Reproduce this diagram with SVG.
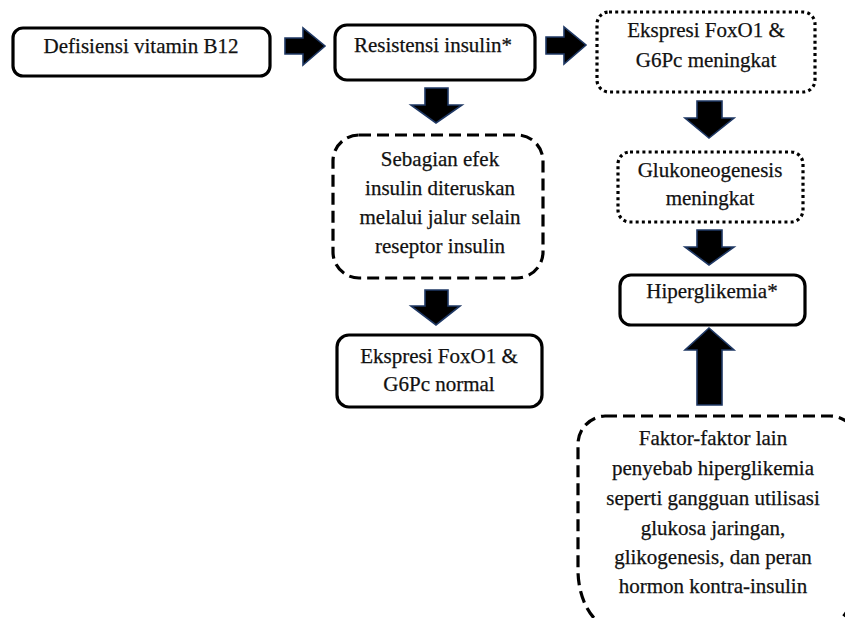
<svg xmlns="http://www.w3.org/2000/svg" width="845" height="618" viewBox="0 0 845 618">
<style>
.box{fill:#fff;stroke:#000;stroke-width:3.2}
.dot{stroke-dasharray:3 3.2}
.dash{stroke-dasharray:12 6}
.arr{fill:#000;stroke:#1F3864;stroke-width:1.6;stroke-linejoin:miter}
text{font-family:"Liberation Serif","Times New Roman",serif;font-size:21px;fill:#111;stroke:#111;stroke-width:0.25;text-anchor:middle}
</style>
<rect width="845" height="618" fill="#fff"/>
<g id="connectors">
<path class="arr" d="M285 38 H303 V28 L325 46 L303 65 V54 H285 Z"/>
<path class="arr" d="M546 37 H564 V27 L586 45 L564 64 V54 H546 Z"/>
<path class="arr" d="M425 88 H448 V105 H462 L436 123 L411 105 H425 Z"/>
<path class="arr" d="M425 290 H448 V306 H460 L436 325 L411 306 H425 Z"/>
<path class="arr" d="M697 101 H722 V118 H734 L709 138 L685 118 H697 Z"/>
<path class="arr" d="M697 230 H722 V247 H734 L709 265 L685 247 H697 Z"/>
<path class="arr" d="M697 405 V350 H685 L709 328 L734 350 H722 V405 Z"/>
</g>
<g id="n1">
<rect class="box" x="13" y="28" width="257" height="48" rx="10"/>
<text x="141" y="53">Defisiensi vitamin B12</text>
</g>
<g id="n2">
<rect class="box" x="335" y="25" width="200" height="55" rx="12"/>
<text x="433" y="52">Resistensi insulin*</text>
</g>
<g id="n3">
<rect class="box dot" x="597" y="12" width="218" height="80" rx="12"/>
<text x="706" y="37">Ekspresi FoxO1 &amp;</text>
<text x="706" y="67">G6Pc meningkat</text>
</g>
<g id="n4">
<rect class="box dash" x="333" y="135" width="210" height="143" rx="26"/>
<text x="440" y="166">Sebagian efek</text>
<text x="440" y="195">insulin diteruskan</text>
<text x="440" y="224">melalui jalur selain</text>
<text x="440" y="253">reseptor insulin</text>
</g>
<g id="n5">
<rect class="box" x="337" y="335" width="205" height="72" rx="12"/>
<text x="439" y="363">Ekspresi FoxO1 &amp;</text>
<text x="439" y="391">G6Pc normal</text>
</g>
<g id="n6">
<rect class="box dot" x="618" y="152" width="185" height="70" rx="12"/>
<text x="710" y="177">Glukoneogenesis</text>
<text x="710" y="205">meningkat</text>
</g>
<g id="n7">
<rect class="box" x="620" y="275" width="185" height="50" rx="11"/>
<text x="712" y="298">Hiperglikemia*</text>
</g>
<g id="n8">
<path class="box dash" d="M605 416 H830 A28 28 0 0 1 858 444 V570 A40 60 0 0 1 818 630 H617 A40 60 0 0 1 578 570 V444 A28 28 0 0 1 605 416 Z"/>
<text x="713" y="445">Faktor-faktor lain</text>
<text x="713" y="475">penyebab hiperglikemia</text>
<text x="713" y="505">seperti gangguan utilisasi</text>
<text x="713" y="535">glukosa jaringan,</text>
<text x="713" y="564">glikogenesis, dan peran</text>
<text x="713" y="593">hormon kontra-insulin</text>
</g>
</svg>
